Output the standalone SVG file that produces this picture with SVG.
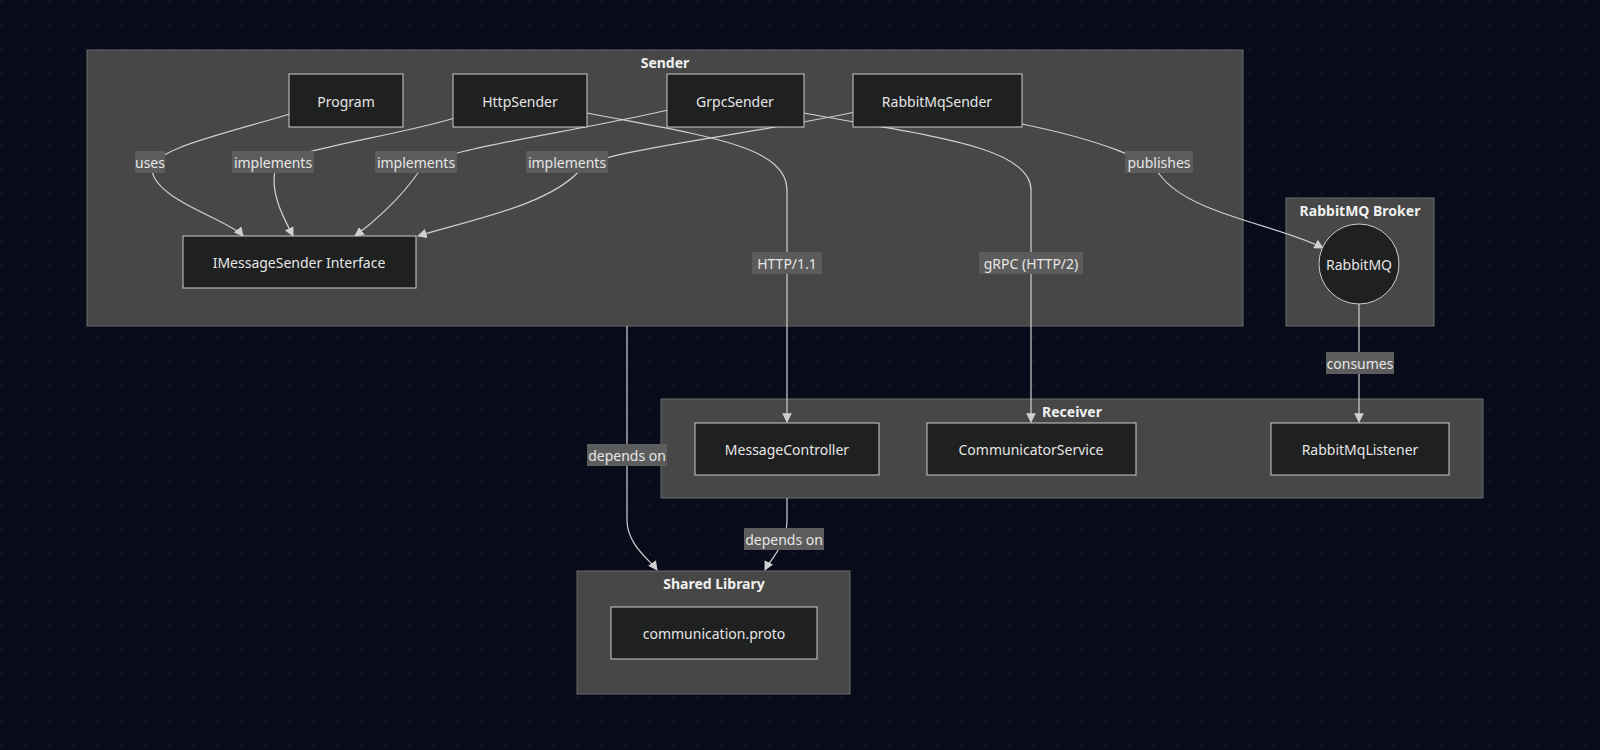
<svg xmlns="http://www.w3.org/2000/svg" width="1600" height="750" viewBox="0 0 1600 750">
<defs>
<pattern id="dots" width="24" height="24" patternUnits="userSpaceOnUse"><circle cx="2" cy="2" r="0.8" fill="#2a2f40"/></pattern>
<marker id="arr" viewBox="0 0 10 10" refX="9" refY="5" markerWidth="8" markerHeight="8" orient="auto"><path d="M0,0L10,5L0,10z" fill="#d0d0d0"/></marker>
</defs>
<style>
.cl{fill:#474747;stroke:#6a6a6a;stroke-width:1}
.nd{fill:#1f2020;stroke:#cccccc;stroke-width:1}
.t{font-family:"Noto Sans","DejaVu Sans",sans-serif;font-size:14px;fill:#e6e6e6;text-anchor:middle;dominant-baseline:central}
.ct{font-weight:bold;fill:#f0f0f0}
.e{fill:none;stroke:#d0d0d0;stroke-width:1.2;marker-end:url(#arr)}
.lb{fill:#5c5c5c}
</style>
<rect width="1600" height="750" fill="#080c1a"/>
<rect width="1600" height="750" fill="url(#dots)"/>
<g id="cluster-sender"><rect class="cl" x="87" y="50" width="1156" height="276"/><text class="t ct" x="665" y="62">Sender</text></g>
<g id="cluster-broker"><rect class="cl" x="1286" y="198" width="148" height="128"/><text class="t ct" x="1360" y="210">RabbitMQ Broker</text></g>
<g id="cluster-receiver"><rect class="cl" x="661" y="399" width="822" height="99"/><text class="t ct" x="1072" y="411">Receiver</text></g>
<g id="cluster-shared"><rect class="cl" x="577" y="571" width="273" height="123"/><text class="t ct" x="714" y="583">Shared Library</text></g>
<g id="connectors">
<path class="e" d="M290,114 C220,135 150,150 152,170 C155,200 230,220 243,236"/>
<path class="e" d="M455,118 C380,140 280,150 275,170 C270,195 285,220 293,236"/>
<path class="e" d="M668,110 C560,135 430,150 420,170 C400,200 370,225 355,236"/>
<path class="e" d="M855,112 C720,140 600,150 580,170 C550,205 470,220 418,236"/>
<path class="e" d="M587,113 C700,135 787,145 787,190 L787,422"/>
<path class="e" d="M804,113 C920,135 1031,145 1031,190 L1031,422"/>
<path class="e" d="M1022,124 C1100,140 1150,160 1160,175 C1190,215 1280,225 1323,248"/>
<path class="e" d="M1359,304 L1359,422"/>
<path class="e" d="M627,326 L627,520 C627,545 650,560 657,570"/>
<path class="e" d="M787,498 L787,520 C787,545 770,560 765,570"/>
<rect class="lb" x="135" y="151" width="30" height="22"/><text class="t" x="150" y="162">uses</text>
<rect class="lb" x="232" y="151" width="82" height="22"/><text class="t" x="273" y="162">implements</text>
<rect class="lb" x="375" y="151" width="82" height="22"/><text class="t" x="416" y="162">implements</text>
<rect class="lb" x="526" y="151" width="82" height="22"/><text class="t" x="567" y="162">implements</text>
<rect class="lb" x="752" y="252" width="70" height="22"/><text class="t" x="787" y="263">HTTP/1.1</text>
<rect class="lb" x="979" y="252" width="104" height="22"/><text class="t" x="1031" y="263">gRPC (HTTP/2)</text>
<rect class="lb" x="1125" y="151" width="68" height="22"/><text class="t" x="1159" y="162">publishes</text>
<rect class="lb" x="1326" y="352" width="68" height="22"/><text class="t" x="1360" y="363">consumes</text>
<rect class="lb" x="587" y="444" width="80" height="22"/><text class="t" x="627" y="455">depends on</text>
<rect class="lb" x="744" y="528" width="80" height="22"/><text class="t" x="784" y="539">depends on</text>
</g>
<g id="program"><rect class="nd" x="289" y="74" width="114" height="53"/><text class="t" x="346" y="101">Program</text></g>
<g id="httpsender"><rect class="nd" x="453" y="74" width="134" height="53"/><text class="t" x="520" y="101">HttpSender</text></g>
<g id="grpcsender"><rect class="nd" x="667" y="74" width="137" height="53"/><text class="t" x="735" y="101">GrpcSender</text></g>
<g id="rabbitmqsender"><rect class="nd" x="853" y="74" width="169" height="53"/><text class="t" x="937" y="101">RabbitMqSender</text></g>
<g id="imessagesender"><rect class="nd" x="183" y="236" width="233" height="52"/><text class="t" x="299" y="262">IMessageSender Interface</text></g>
<g id="rabbitmq"><circle class="nd" cx="1359" cy="264" r="40"/><text class="t" x="1359" y="264">RabbitMQ</text></g>
<g id="messagecontroller"><rect class="nd" x="695" y="423" width="184" height="52"/><text class="t" x="787" y="449">MessageController</text></g>
<g id="communicatorservice"><rect class="nd" x="927" y="423" width="209" height="52"/><text class="t" x="1031" y="449">CommunicatorService</text></g>
<g id="rabbitmqlistener"><rect class="nd" x="1271" y="423" width="178" height="52"/><text class="t" x="1360" y="449">RabbitMqListener</text></g>
<g id="proto"><rect class="nd" x="611" y="607" width="206" height="52"/><text class="t" x="714" y="633">communication.proto</text></g>
</svg>
